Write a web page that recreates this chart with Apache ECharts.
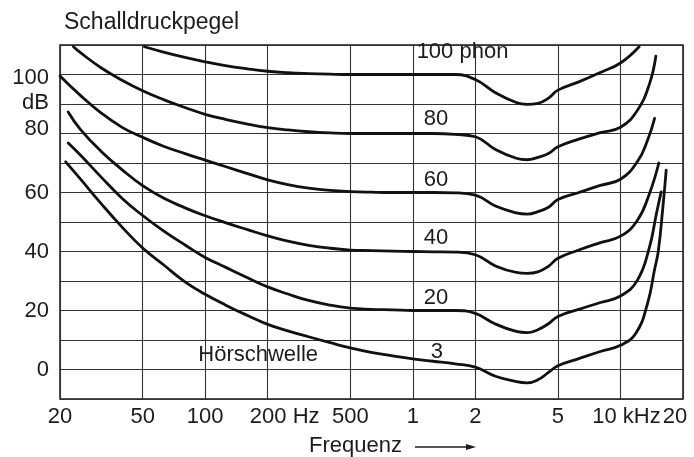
<!DOCTYPE html>
<html>
<head>
<meta charset="utf-8">
<script src="https://cdn.jsdelivr.net/npm/echarts@6/dist/echarts.min.js"></script>
<style>
  html, body { margin: 0; padding: 0; background: #fff; }
  #chart { width: 694px; height: 457px; }
</style>
</head>
<body>
<div id="chart"></div>
<script>
// Kurven gleicher Lautstärke: Frequenz in Hz, Schalldruckpegel in dB
const freqTicks = [20, 50, 100, 200, 500, 1000, 2000, 5000, 10000, 20000];
const freqTickLabels = ['20', '50', '100', '200 Hz', '500', '1', '2', '5', '10 kHz', '20'];
const levelTickLabels = { 0: '0', 20: '20', 40: '40', 60: '60', 80: '80', 90: 'dB', 100: '100' };

const phon100 = [[51, 109.4], [63, 107.6], [80, 105.8], [100, 104.3], [125, 103], [160, 101.9], [200, 101.1],
  [250, 100.6], [315, 100.3], [400, 100.1], [500, 100], [630, 100], [800, 100], [1000, 100], [1250, 100],
  [1600, 100], [2000, 98.3], [2500, 93.8], [3150, 90.5], [3550, 89.9], [4000, 90.2], [4500, 92],
  [5000, 94.7], [6300, 97.5], [8000, 100.7], [10000, 103.9], [12300, 109.4]];
const phon80 = [[23.2, 109.4], [25, 107.5], [31.5, 102.3], [40, 98], [50, 94.5], [63, 91.5], [80, 88.8],
  [100, 86.5], [125, 84.8], [160, 83.2], [200, 82], [250, 81.2], [315, 80.6], [400, 80.2], [500, 80],
  [630, 80], [800, 80], [1000, 80], [1250, 80], [1600, 79.7], [2000, 78.9], [2500, 74.6], [3150, 71.6],
  [3550, 71.1], [4000, 71.9], [4500, 73.2], [5000, 75.5], [6300, 78.1], [8000, 80.3], [10000, 82.1],
  [12070, 87.9], [13800, 96.9], [14800, 106.2]];
const phon60 = [[20, 99.5], [25, 93], [31.5, 87], [40, 82], [50, 78.7], [63, 75.7], [80, 73.2], [100, 71],
  [125, 68.8], [160, 66.4], [200, 64.3], [250, 62.7], [315, 61.5], [400, 60.7], [500, 60.3], [630, 60.1],
  [800, 60], [1000, 60], [1250, 60], [1600, 59.9], [2000, 59.1], [2500, 55.4], [3150, 53.1], [3550, 52.7],
  [4000, 53.5], [4500, 55], [5000, 57.6], [6300, 60], [8000, 62.4], [10000, 64.5], [12070, 70.5],
  [13500, 77.7], [14600, 85.1]];
const phon40 = [[21.9, 87.3], [25, 81.5], [31.5, 74], [40, 67.6], [50, 62.3], [63, 58.1], [80, 54.8],
  [100, 52.1], [125, 49.8], [160, 47.4], [200, 45.3], [250, 43.5], [315, 42.1], [400, 41.1], [500, 40.5],
  [630, 40.3], [800, 40.1], [1000, 40], [1250, 39.9], [1600, 39.8], [2000, 38.9], [2500, 35.1],
  [3150, 32.9], [3550, 32.6], [4000, 33.1], [4500, 35], [5000, 37.7], [6300, 40.5], [8000, 43],
  [10000, 45.2], [12070, 50.6], [13800, 59.7], [15300, 70]];
const phon20 = [[21.9, 76.8], [25, 72.8], [31.5, 65.3], [40, 57.9], [50, 52.2], [63, 47], [80, 42.2],
  [100, 38], [125, 34.7], [160, 31.1], [200, 28], [250, 25.6], [315, 23.4], [400, 21.8], [500, 20.8],
  [630, 20.4], [800, 20.2], [1000, 20], [1250, 20], [1600, 20], [2000, 19], [2500, 15.4], [3150, 12.9],
  [3550, 12.5], [4000, 13.5], [4500, 15.5], [5000, 18], [6300, 20.4], [8000, 22.7], [10000, 24.9],
  [12070, 30.3], [13800, 41.6], [14900, 52.9], [15700, 60.2]];
const phon3 = [[21.3, 70.4], [25, 64.7], [31.5, 56.3], [40, 48.1], [50, 41.2], [63, 35.5], [80, 29.7],
  [100, 25.5], [125, 21.9], [160, 18.3], [200, 15.3], [250, 13.1], [315, 11.1], [400, 9.1], [500, 7.3],
  [630, 5.8], [800, 4.6], [1000, 3.6], [1250, 2.8], [1600, 1.9], [2000, 0.8], [2500, -2.3], [3150, -4.1],
  [3550, -4.5], [4000, -3.5], [4500, -1], [5000, 1.3], [6300, 3.7], [8000, 6.1], [10000, 8.2],
  [11860, 12.3], [13500, 22.4], [14600, 34], [15200, 40], [16000, 55], [16600, 67.6]];

const curveNames = ['100 phon', '80 phon', '60 phon', '40 phon', '20 phon', '3 phon'];
const curves = [phon100, phon80, phon60, phon40, phon20, phon3];

// Beschriftungen an den Kurven
const labelText = ['100 phon', '80', '60', '40', '20', '3', 'Hörschwelle'];
const labelFreq = [1735, 1293, 1293, 1293, 1293, 1307, 180];
const labelLevel = [107.5, 84.9, 64.2, 44.7, 24.1, 5.8, 4.9];

const FONT = '"Liberation Sans", Arial, Helvetica, sans-serif';
const INK = '#1c1c1c';

const chart = echarts.init(document.getElementById('chart'), null, { renderer: 'canvas' });

const series = curves.map((pts, i) => ({
  name: curveNames[i],
  type: 'line',
  data: pts,
  smooth: 0.45,
  showSymbol: false,
  symbol: 'none',
  clip: true,
  lineStyle: { color: '#111', width: 2.8, cap: 'round', join: 'round' },
  z: 3
}));

// Kurvenbeschriftungen als unsichtbare Punkte mit Text
series.push({
  name: 'Beschriftung',
  type: 'scatter',
  symbolSize: 0,
  data: labelText.map((t, i) => [labelFreq[i], labelLevel[i], t]),
  label: {
    show: true,
    position: 'inside',
    formatter: p => p.value[2],
    color: INK,
    fontFamily: FONT,
    fontSize: 22,
    textBorderWidth: 0,
    opacity: 1
  },
  itemStyle: { color: INK, opacity: 1 },
  emphasis: { disabled: true },
  z: 5
});

chart.setOption({
  backgroundColor: '#fff',
  animation: false,
  title: {
    text: 'Schalldruckpegel',
    left: 59,
    top: 6,
    textStyle: { fontFamily: FONT, fontSize: 23, fontWeight: 'normal', color: INK }
  },
  grid: {
    left: 60, right: 11, top: 45, bottom: 58,
    show: true, borderColor: '#1a1a1a', borderWidth: 1.5,
    containLabel: false
  },
  xAxis: {
    type: 'log',
    logBase: 10,
    min: 20,
    max: 20000,
    axisLine: { show: false },
    axisTick: { show: false, customValues: freqTicks },
    splitLine: { show: true, lineStyle: { color: '#333', width: 1.1 } },
    axisLabel: {
      customValues: freqTicks,
      margin: 7,
      color: INK,
      fontFamily: FONT,
      fontSize: 22,
      formatter: v => {
        const i = freqTicks.indexOf(Math.round(v));
        const t = i >= 0 ? freqTickLabels[i] : '';
        if (Math.round(v) === 200) return '{hz|' + t + '}';
        if (Math.round(v) === 10000) return '{khz|' + t + '}';
        if (Math.round(v) === 20000) return '{last|' + t + '}';
        return t;
      },
      rich: {
        hz: { fontFamily: FONT, fontSize: 22, color: INK, padding: [0, 0, 0, 34] },
        khz: { fontFamily: FONT, fontSize: 22, color: INK, padding: [0, 0, 0, 12] },
        last: { fontFamily: FONT, fontSize: 22, color: INK, padding: [0, 16, 0, 0] }
      }
    }
  },
  yAxis: {
    type: 'value',
    min: -10,
    max: 110,
    interval: 10,
    axisLine: { show: false },
    axisTick: { show: false },
    splitLine: { show: true, lineStyle: { color: '#333', width: 1.1 } },
    axisLabel: {
      margin: 11,
      color: INK,
      fontFamily: FONT,
      fontSize: 22,
      formatter: v => {
        const t = levelTickLabels[v];
        if (t === undefined) return '';
        if (v === 100) return '{dn|' + t + '}';
        if (v === 80) return '{up|' + t + '}';
        if (v === 90) return '{db|' + t + '}';
        return t;
      },
      rich: {
        dn: { fontFamily: FONT, fontSize: 22, color: INK, padding: [6, 0, 0, 0] },
        up: { fontFamily: FONT, fontSize: 22, color: INK, padding: [0, 0, 10, 0] },
        db: { fontFamily: FONT, fontSize: 22, color: INK, padding: [0, 0, 3, 0] }
      }
    }
  },
  graphic: [
    {
      type: 'text',
      left: 309,
      top: 435,
      style: { text: 'Frequenz', fontFamily: FONT, fontSize: 22, fill: INK }
    },
    {
      type: 'line',
      shape: { x1: 415, y1: 447, x2: 470, y2: 447 },
      style: { stroke: INK, lineWidth: 1.3 }
    },
    {
      type: 'polygon',
      shape: { points: [[466, 444], [476, 447], [466, 450]] },
      style: { fill: INK }
    }
  ],
  series: series
});
</script>
</body>
</html>
